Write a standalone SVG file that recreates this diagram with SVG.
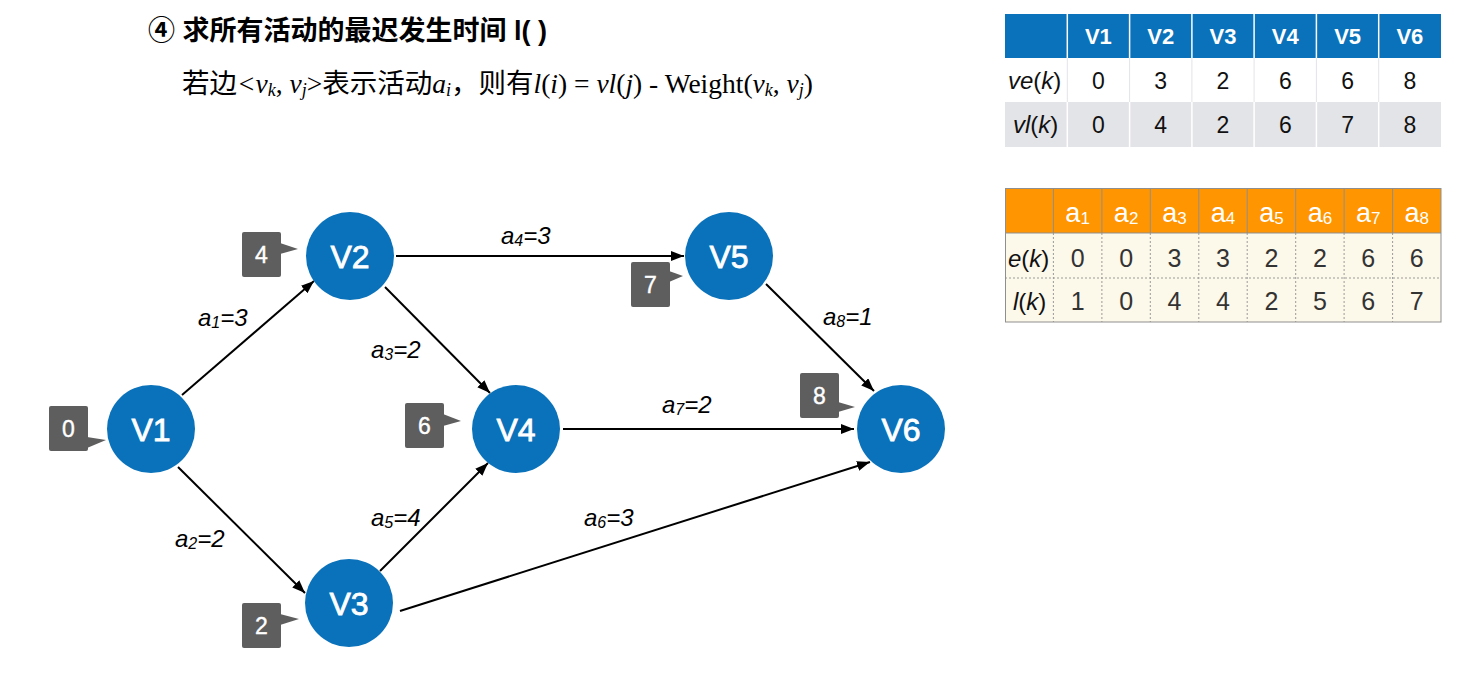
<svg xmlns="http://www.w3.org/2000/svg" width="1466" height="673" viewBox="0 0 1466 673">
<style>
.title{font-family:"Liberation Sans","Noto Sans CJK SC",sans-serif;font-size:27px;font-weight:bold;fill:#000;}
.sub{font-family:"Liberation Serif","Noto Sans CJK SC",serif;font-size:27.5px;fill:#000;}
.node circle{fill:#0A72BA;}
.node text{font-family:"Liberation Sans",sans-serif;font-size:32px;fill:#fff;stroke:#fff;stroke-width:0.8;text-anchor:middle;}
.tag rect,.tag polygon{fill:#5E5E5E;}
.tag text{font-family:"Liberation Sans",sans-serif;font-size:23px;fill:#fff;stroke:#fff;stroke-width:0.4;text-anchor:middle;}
.edge{stroke:#000;stroke-width:2;fill:none;marker-end:url(#arr);}
.el{font-family:"Liberation Sans",sans-serif;font-size:24px;font-style:italic;fill:#000;}
.th1{font-family:"Liberation Sans",sans-serif;font-size:22px;font-weight:bold;fill:#fff;text-anchor:middle;}
.td{font-family:"Liberation Sans",sans-serif;font-size:23px;fill:#111;text-anchor:middle;}
.th2{font-family:"Liberation Sans",sans-serif;font-size:27px;fill:#fff;text-anchor:middle;}
.td2{font-family:"Liberation Sans",sans-serif;font-size:25px;fill:#333;text-anchor:middle;}
.rl{font-family:"Liberation Sans",sans-serif;font-size:24px;fill:#111;}
.dot{stroke:#9a9a9a;stroke-width:1;stroke-dasharray:2,2;}
</style>
<defs>
<marker id="arr" markerUnits="userSpaceOnUse" markerWidth="14" markerHeight="11" refX="13" refY="5" orient="auto">
<path d="M0,0 L13,5 L0,10 z" fill="#000"/>
</marker>
</defs>
<rect width="1466" height="673" fill="#fff"/>

<g id="title">
<text class="title" x="148" y="40">④ 求所有活动的最迟发生时间 l( )</text>
<text class="sub" x="182" y="93">若边<tspan font-style="italic">&lt;v</tspan><tspan font-style="italic" font-size="18" dy="3">k</tspan><tspan dy="-3">, </tspan><tspan font-style="italic">v</tspan><tspan font-style="italic" font-size="18" dy="3">j</tspan><tspan dy="-3">&gt;</tspan>表示活动<tspan font-style="italic">a</tspan><tspan font-style="italic" font-size="18" dy="3">i</tspan><tspan dy="-3">，则有</tspan><tspan font-style="italic">l</tspan>(<tspan font-style="italic">i</tspan>) = <tspan font-style="italic">vl</tspan>(<tspan font-style="italic">j</tspan>) - Weight(<tspan font-style="italic">v</tspan><tspan font-style="italic" font-size="18" dy="3">k</tspan><tspan dy="-3">, </tspan><tspan font-style="italic">v</tspan><tspan font-style="italic" font-size="18" dy="3">j</tspan><tspan dy="-3">)</tspan></text>
</g>

<g id="connectors">
<line class="edge" x1="182" y1="395" x2="314" y2="281"/>
<line class="edge" x1="178" y1="467" x2="305" y2="593"/>
<line class="edge" x1="385" y1="287" x2="490" y2="393"/>
<line class="edge" x1="396" y1="256" x2="684" y2="256"/>
<line class="edge" x1="380" y1="571" x2="488" y2="463"/>
<line class="edge" x1="400" y1="611" x2="870" y2="462"/>
<line class="edge" x1="563" y1="429" x2="854" y2="429"/>
<line class="edge" x1="766" y1="284" x2="874" y2="391"/>
<text class="el" x="198" y="326">a<tspan font-size="16" dy="2">1</tspan><tspan dy="-2">=3</tspan></text>
<text class="el" x="175" y="547">a<tspan font-size="16" dy="2">2</tspan><tspan dy="-2">=2</tspan></text>
<text class="el" x="371" y="358">a<tspan font-size="16" dy="2">3</tspan><tspan dy="-2">=2</tspan></text>
<text class="el" x="501" y="244">a<tspan font-size="16" dy="2">4</tspan><tspan dy="-2">=3</tspan></text>
<text class="el" x="371" y="526">a<tspan font-size="16" dy="2">5</tspan><tspan dy="-2">=4</tspan></text>
<text class="el" x="584" y="526">a<tspan font-size="16" dy="2">6</tspan><tspan dy="-2">=3</tspan></text>
<text class="el" x="662" y="413">a<tspan font-size="16" dy="2">7</tspan><tspan dy="-2">=2</tspan></text>
<text class="el" x="823" y="325">a<tspan font-size="16" dy="2">8</tspan><tspan dy="-2">=1</tspan></text>
</g>

<g id="V1" class="node"><circle cx="151" cy="429" r="44"/><text x="151" y="441">V1</text></g>
<g id="V2" class="node"><circle cx="350" cy="256" r="44"/><text x="350" y="268">V2</text></g>
<g id="V3" class="node"><circle cx="349" cy="603" r="44"/><text x="349" y="615">V3</text></g>
<g id="V4" class="node"><circle cx="516" cy="429" r="44"/><text x="516" y="441">V4</text></g>
<g id="V5" class="node"><circle cx="729" cy="256" r="44"/><text x="729" y="268">V5</text></g>
<g id="V6" class="node"><circle cx="901" cy="429" r="44"/><text x="901" y="441">V6</text></g>

<g id="tag-V1" class="tag"><rect x="49" y="406" width="39" height="45" rx="2"/><polygon points="87,437 106,440 87,448"/><text x="68.5" y="437">0</text></g>
<g id="tag-V2" class="tag"><rect x="242" y="232" width="39" height="45" rx="2"/><polygon points="280,243 298,249 280,254"/><text x="261.5" y="263">4</text></g>
<g id="tag-V3" class="tag"><rect x="242" y="603" width="39" height="45" rx="2"/><polygon points="280,614 299,619 280,625"/><text x="261.5" y="634">2</text></g>
<g id="tag-V4" class="tag"><rect x="405" y="403" width="39" height="45" rx="2"/><polygon points="443,414 461,421 443,426"/><text x="424.5" y="434">6</text></g>
<g id="tag-V5" class="tag"><rect x="631" y="262" width="39" height="45" rx="2"/><polygon points="669,271 683,276 669,282"/><text x="650.5" y="293">7</text></g>
<g id="tag-V6" class="tag"><rect x="800" y="373" width="39" height="45" rx="2"/><polygon points="838,402 855,407 838,412"/><text x="819.5" y="404">8</text></g>

<g id="table-vertex">
<rect x="1005" y="14" width="436" height="44" fill="#0A72BA"/>
<rect x="1005" y="58" width="436" height="44" fill="#fff"/>
<rect x="1005" y="102" width="436" height="45" fill="#E3E4E8"/>
<g stroke="#fff" stroke-width="1.5">
<line x1="1067.3" y1="14" x2="1067.3" y2="58"/><line x1="1129.6" y1="14" x2="1129.6" y2="58"/><line x1="1191.9" y1="14" x2="1191.9" y2="58"/><line x1="1254.1" y1="14" x2="1254.1" y2="58"/><line x1="1316.4" y1="14" x2="1316.4" y2="58"/><line x1="1378.7" y1="14" x2="1378.7" y2="58"/>
<line x1="1067.3" y1="102" x2="1067.3" y2="147"/><line x1="1129.6" y1="102" x2="1129.6" y2="147"/><line x1="1191.9" y1="102" x2="1191.9" y2="147"/><line x1="1254.1" y1="102" x2="1254.1" y2="147"/><line x1="1316.4" y1="102" x2="1316.4" y2="147"/><line x1="1378.7" y1="102" x2="1378.7" y2="147"/>
</g>
<g stroke="#E3E4E8" stroke-width="1">
<line x1="1067.3" y1="58" x2="1067.3" y2="102"/><line x1="1129.6" y1="58" x2="1129.6" y2="102"/><line x1="1191.9" y1="58" x2="1191.9" y2="102"/><line x1="1254.1" y1="58" x2="1254.1" y2="102"/><line x1="1316.4" y1="58" x2="1316.4" y2="102"/><line x1="1378.7" y1="58" x2="1378.7" y2="102"/>
</g>
<text class="th1" x="1098.4" y="44">V1</text><text class="th1" x="1160.7" y="44">V2</text><text class="th1" x="1223" y="44">V3</text><text class="th1" x="1285.3" y="44">V4</text><text class="th1" x="1347.6" y="44">V5</text><text class="th1" x="1409.9" y="44">V6</text>
<text class="rl" x="1008" y="89"><tspan font-style="italic">ve</tspan>(<tspan font-style="italic">k</tspan>)</text>
<text class="rl" x="1013" y="133"><tspan font-style="italic">vl</tspan>(<tspan font-style="italic">k</tspan>)</text>
<text class="td" x="1098.4" y="89">0</text><text class="td" x="1160.7" y="89">3</text><text class="td" x="1223" y="89">2</text><text class="td" x="1285.3" y="89">6</text><text class="td" x="1347.6" y="89">6</text><text class="td" x="1409.9" y="89">8</text>
<text class="td" x="1098.4" y="133">0</text><text class="td" x="1160.7" y="133">4</text><text class="td" x="1223" y="133">2</text><text class="td" x="1285.3" y="133">6</text><text class="td" x="1347.6" y="133">7</text><text class="td" x="1409.9" y="133">8</text>
</g>

<g id="table-activity">
<rect x="1005" y="188" width="436" height="45" fill="#FF9500"/>
<rect x="1005" y="233" width="436" height="89" fill="#FCF8EA"/>
<g stroke="#8f8f8f" stroke-width="1">
<line x1="1053.4" y1="188" x2="1053.4" y2="233"/><line x1="1101.9" y1="188" x2="1101.9" y2="233"/><line x1="1150.3" y1="188" x2="1150.3" y2="233"/><line x1="1198.8" y1="188" x2="1198.8" y2="233"/><line x1="1247.2" y1="188" x2="1247.2" y2="233"/><line x1="1295.7" y1="188" x2="1295.7" y2="233"/><line x1="1344.1" y1="188" x2="1344.1" y2="233"/><line x1="1392.6" y1="188" x2="1392.6" y2="233"/>
</g>
<g class="dot">
<line x1="1053.4" y1="233" x2="1053.4" y2="322"/><line x1="1101.9" y1="233" x2="1101.9" y2="322"/><line x1="1150.3" y1="233" x2="1150.3" y2="322"/><line x1="1198.8" y1="233" x2="1198.8" y2="322"/><line x1="1247.2" y1="233" x2="1247.2" y2="322"/><line x1="1295.7" y1="233" x2="1295.7" y2="322"/><line x1="1344.1" y1="233" x2="1344.1" y2="322"/><line x1="1392.6" y1="233" x2="1392.6" y2="322"/>
<line x1="1005" y1="278" x2="1441" y2="278"/>
</g>
<rect x="1005.5" y="188.5" width="435.5" height="133.5" fill="none" stroke="#8f8f8f" stroke-width="1"/>
<line x1="1005" y1="233" x2="1441" y2="233" stroke="#8f8f8f" stroke-width="1"/>
<text class="th2" x="1077.6" y="222">a<tspan font-size="17" dy="2">1</tspan></text>
<text class="th2" x="1126.1" y="222">a<tspan font-size="17" dy="2">2</tspan></text>
<text class="th2" x="1174.5" y="222">a<tspan font-size="17" dy="2">3</tspan></text>
<text class="th2" x="1223" y="222">a<tspan font-size="17" dy="2">4</tspan></text>
<text class="th2" x="1271.4" y="222">a<tspan font-size="17" dy="2">5</tspan></text>
<text class="th2" x="1319.9" y="222">a<tspan font-size="17" dy="2">6</tspan></text>
<text class="th2" x="1368.3" y="222">a<tspan font-size="17" dy="2">7</tspan></text>
<text class="th2" x="1416.8" y="222">a<tspan font-size="17" dy="2">8</tspan></text>
<text class="rl" x="1008" y="267" fill="#333"><tspan font-style="italic">e</tspan>(<tspan font-style="italic">k</tspan>)</text>
<text class="rl" x="1013" y="310" fill="#333"><tspan font-style="italic">l</tspan>(<tspan font-style="italic">k</tspan>)</text>
<text class="td2" x="1077.6" y="267">0</text><text class="td2" x="1126.1" y="267">0</text><text class="td2" x="1174.5" y="267">3</text><text class="td2" x="1223" y="267">3</text><text class="td2" x="1271.4" y="267">2</text><text class="td2" x="1319.9" y="267">2</text><text class="td2" x="1368.3" y="267">6</text><text class="td2" x="1416.8" y="267">6</text>
<text class="td2" x="1077.6" y="310">1</text><text class="td2" x="1126.1" y="310">0</text><text class="td2" x="1174.5" y="310">4</text><text class="td2" x="1223" y="310">4</text><text class="td2" x="1271.4" y="310">2</text><text class="td2" x="1319.9" y="310">5</text><text class="td2" x="1368.3" y="310">6</text><text class="td2" x="1416.8" y="310">7</text>
</g>
</svg>
